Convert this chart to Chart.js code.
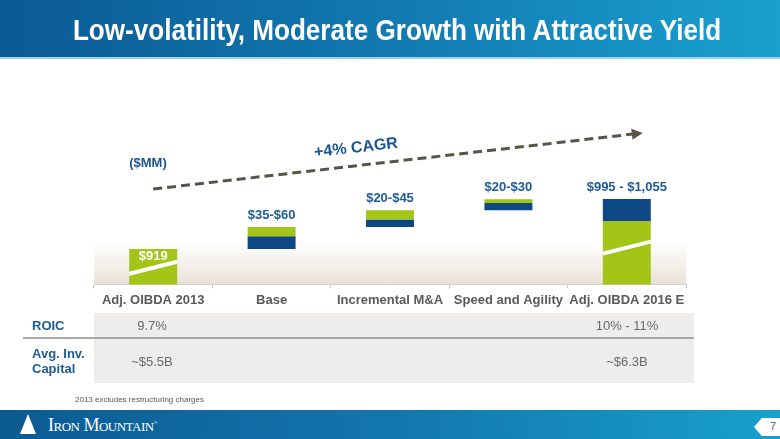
<!DOCTYPE html>
<html>
<head>
<meta charset="utf-8">
<script src="https://cdn.jsdelivr.net/npm/chart.js@4.4.1/dist/chart.umd.min.js"></script>
<style>
body{margin:0;width:780px;height:439px;position:relative;overflow:hidden;background:#fff;font-family:"Liberation Sans",Arial,sans-serif;}
#chart{position:absolute;left:0;top:0;}
#header{position:absolute;left:0;top:0;width:780px;height:57px;background:linear-gradient(90deg,#0b5a93 0%,#1279b1 50%,#19a0cf 100%);border-bottom:2px solid #9ad4ea;}
#header h1{margin:0;font-weight:bold;font-size:30px;color:#fff;text-align:center;line-height:60px;transform:translateX(7px) scaleX(0.87);white-space:nowrap;}
.rlabel{position:absolute;left:9px;color:#1d5a98;font-weight:bold;font-size:13px;line-height:15px;}
.cell{position:absolute;background:#eeedeb;}
.val{position:absolute;color:#6a6a6a;font-size:13px;transform:translateX(-50%);}
#sep{position:absolute;left:23px;top:337px;width:671px;height:2px;background:#a8a8a8;}
#note{position:absolute;left:75px;top:395px;font-size:8px;color:#555;}
#footer{position:absolute;left:0;top:410px;width:780px;height:29px;background:linear-gradient(90deg,#0c5a92 0%,#1276ad 50%,#18a0cd 100%);}
#logo{position:absolute;left:20px;top:4px;width:0;height:0;border-left:8px solid transparent;border-right:8px solid transparent;border-bottom:20px solid #fff;}
#brand{position:absolute;left:48px;top:5px;font-family:"Liberation Serif",serif;font-size:18px;color:#fff;font-variant:small-caps;letter-spacing:-0.5px;}
#page{position:absolute;right:0;top:8px;width:26px;height:18px;background:#fff;clip-path:polygon(0 50%,30% 0,100% 0,100% 100%,30% 100%);}
#page span{position:absolute;left:16px;top:2px;font-size:11px;color:#555;}
</style>
</head>
<body>
<canvas id="chart" width="780" height="439"></canvas>
<div id="header"><h1>Low-volatility, Moderate Growth with Attractive Yield</h1></div>

<div class="cell" style="left:94px;top:313px;width:600px;height:70px"></div>
<div id="sep"></div>
<div class="rlabel" style="left:32px;top:318px">ROIC</div>
<div class="rlabel" style="left:32px;top:346px">Avg. Inv.<br>Capital</div>
<div class="val" style="left:152px;top:318px">9.7%</div>
<div class="val" style="left:627px;top:318px">10% - 11%</div>
<div class="val" style="left:152px;top:354px">~$5.5B</div>
<div class="val" style="left:627px;top:354px">~$6.3B</div>
<div id="note">2013 excludes restructuring charges</div>

<div id="footer">
  <div id="logo"></div>
  <div id="brand">Iron Mountain<sup style="font-size:5px">®</sup></div>
  <div id="page"><span>7</span></div>
</div>

<script>
// $MM, waterfall from 2013 to 2016E
const categories = ["Adj. OIBDA 2013", "Base", "Incremental M&A", "Speed and Agility", "Adj. OIBDA 2016 E"];
const greenRanges = [[0, 919], [954, 979], [999, 1024], [1044, 1054], [0, 995]];
const navyRanges = [null, [919, 954], [979, 999], [1024, 1044], [995, 1055]];
const barLabels = ["$919", "$35-$60", "$20-$45", "$20-$30", "$995 - $1,055"];

const GREEN = "#a2c517", NAVY = "#0d4784", BLUE_TXT = "#1d5a98";

const decor = {
    id: "decor",
    beforeDatasetsDraw(chart){
        const {ctx, chartArea: a} = chart;
        // soft beige band above the axis
        const g = ctx.createLinearGradient(0, a.bottom - 44, 0, a.bottom);
        g.addColorStop(0, "rgba(236,230,220,0)");
        g.addColorStop(1, "rgba(232,225,214,1)");
        ctx.save();
        ctx.fillStyle = g;
        ctx.fillRect(a.left, a.bottom - 44, a.right - a.left, 44);
        ctx.restore();
    },
    afterDatasetsDraw(chart){
        const {ctx} = chart;
        const greens = chart.getDatasetMeta(0).data;
        const navys = chart.getDatasetMeta(1).data;
        ctx.save();
        // break marks on the two full bars
        const breaks = {0: 0.53, 4: 0.42};
        ctx.strokeStyle = "#fff";
        ctx.lineWidth = 4;
        Object.keys(breaks).forEach(k=>{
            const b = greens[k];
            const top = Math.min(b.y, b.base);
            const bot = chart.chartArea.bottom;
            const yc = top + (bot - top) * breaks[k];
            const l = b.x - b.width/2, r = b.x + b.width/2;
            ctx.beginPath();
            ctx.moveTo(l, yc + 6);
            ctx.lineTo(r, yc - 6);
            ctx.stroke();
        });
        // value labels
        ctx.font = "bold 13px 'Liberation Sans', Arial";
        ctx.textAlign = "center";
        ctx.textBaseline = "alphabetic";
        barLabels.forEach((t, i)=>{
            let top = greens[i].y;
            if(navyRanges[i]) top = Math.min(top, navys[i].y);
            if(i === 0){
                ctx.fillStyle = "#fff";
                ctx.fillText(t, greens[i].x, top + 11);
            } else {
                ctx.fillStyle = BLUE_TXT;
                ctx.fillText(t, greens[i].x, top - 8);
            }
        });
        // dashed CAGR arrow
        const x0 = greens[0].x, x1 = greens[4].x + 16;
        const y0 = greens[0].y - 60, y1 = navys[4].y - 66;
        ctx.strokeStyle = "#5b5345";
        ctx.lineWidth = 3;
        ctx.setLineDash([9, 5]);
        ctx.beginPath();
        ctx.moveTo(x0, y0);
        ctx.lineTo(x1 - 8, y1 + (y0 - y1) * 8 / (x1 - x0));
        ctx.stroke();
        ctx.setLineDash([]);
        const ang = Math.atan2(y1 - y0, x1 - x0);
        ctx.fillStyle = "#5b5345";
        ctx.translate(x1, y1);
        ctx.rotate(ang);
        ctx.beginPath();
        ctx.moveTo(0, 0);
        ctx.lineTo(-11, -5.5);
        ctx.lineTo(-11, 5.5);
        ctx.closePath();
        ctx.fill();
        ctx.setTransform(1, 0, 0, 1, 0, 0);
        // CAGR text
        ctx.fillStyle = "#1a5494";
        ctx.font = "bold 16px 'Liberation Sans', Arial";
        ctx.translate(356, 148);
        ctx.rotate(ang);
        ctx.textBaseline = "middle";
        ctx.fillText("+4% CAGR", 0, 0);
        ctx.setTransform(1, 0, 0, 1, 0, 0);
        ctx.font = "bold 13px 'Liberation Sans', Arial";
        ctx.fillText("($MM)", 148, 163);
        ctx.restore();
    }
};

new Chart(document.getElementById("chart"), {
    type: "bar",
    data: {
        labels: categories,
        datasets: [
            {data: greenRanges, backgroundColor: GREEN, grouped: false, barPercentage: 1, categoryPercentage: 0.405},
            {data: navyRanges, backgroundColor: NAVY, grouped: false, barPercentage: 1, categoryPercentage: 0.405}
        ]
    },
    options: {
        responsive: false,
        animation: false,
        layout: {padding: {left: 94, right: 94, top: 74, bottom: 127}},
        plugins: {legend: {display: false}, tooltip: {enabled: false}},
        scales: {
            y: {display: false, min: 823, max: 1394},
            x: {
                offset: true,
                border: {color: "#c6c6c6", width: 1},
                grid: {drawOnChartArea: false, color: "#c6c6c6", tickLength: 4},
                ticks: {color: "#595959", font: {family: "'Liberation Sans', Arial", size: 13, weight: "bold"}, padding: 4, maxRotation: 0, autoSkip: false}
            }
        }
    },
    plugins: [decor]
});
</script>
</body>
</html>
